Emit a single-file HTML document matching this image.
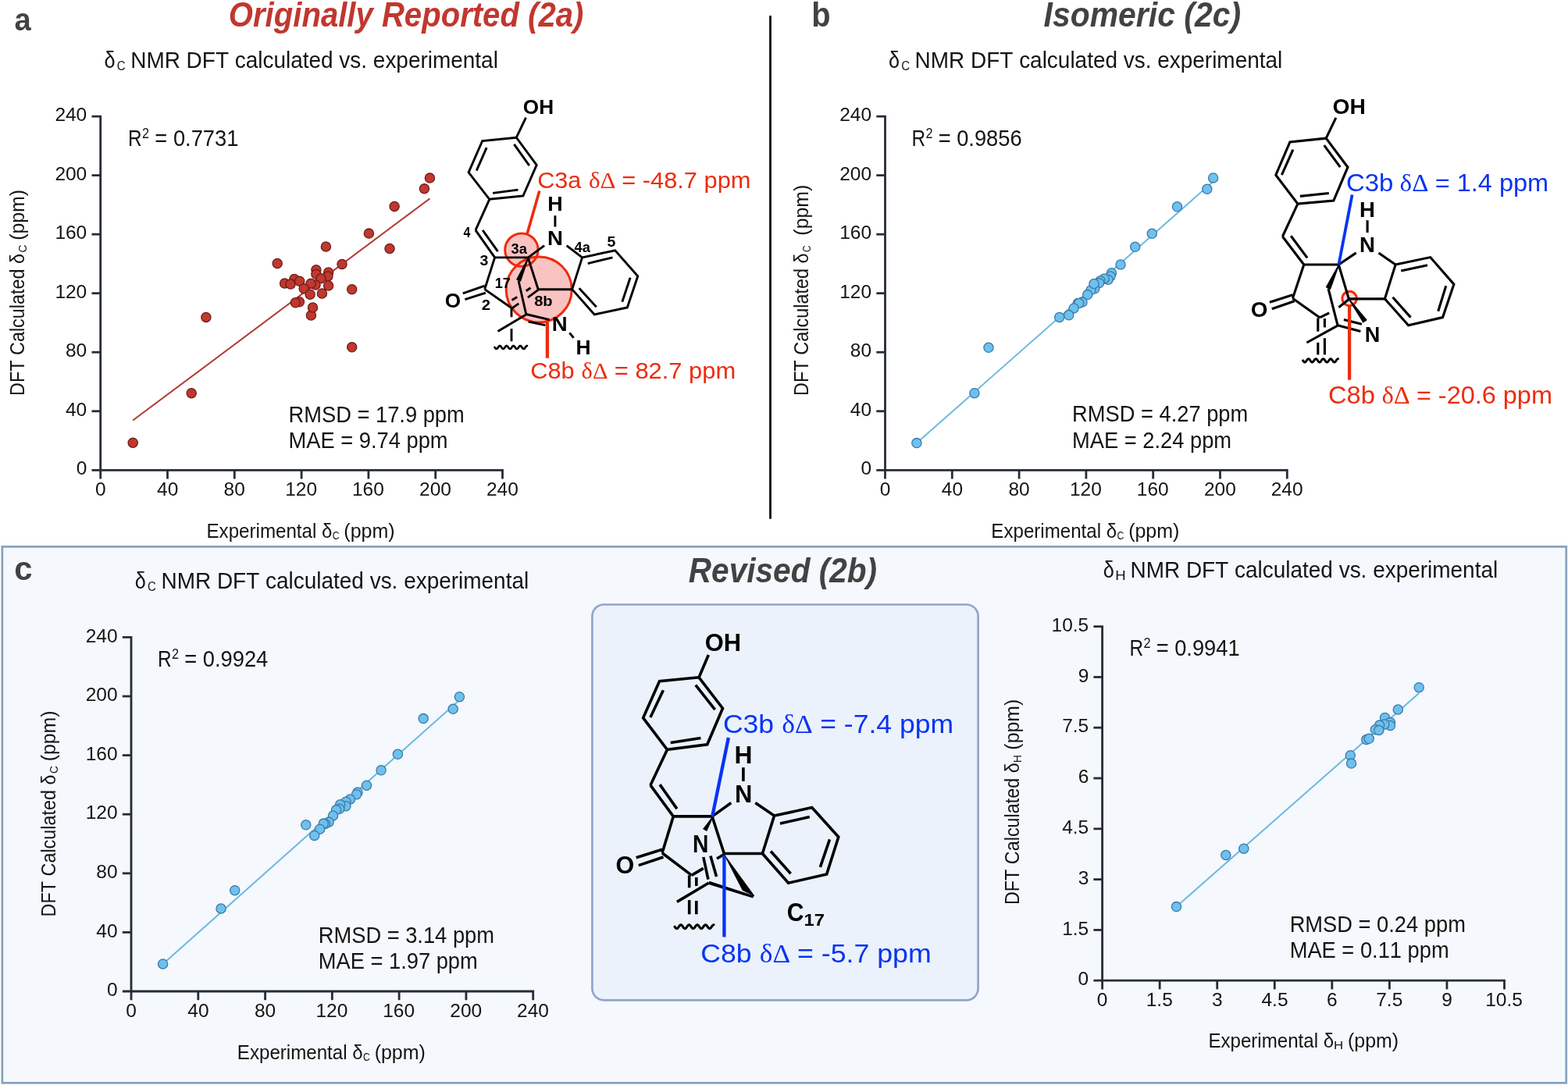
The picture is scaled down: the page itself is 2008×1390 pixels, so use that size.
<!DOCTYPE html>
<html><head><meta charset="utf-8"><title>NMR DFT figure</title>
<style>html,body{margin:0;padding:0;background:#fff;}svg{display:block;}</style></head>
<body>
<svg xmlns="http://www.w3.org/2000/svg" width="2008" height="1390" viewBox="0 0 2008 1390" font-family='"Liberation Sans", Arial, Helvetica, sans-serif' style="font-kerning:none">
<rect width="2008" height="1390" fill="#ffffff"/>
<rect x="2.85" y="700.35" width="2002.9" height="687.0" fill="#f5f8fc" stroke="#87a0bb" stroke-width="2.7"/>
<rect x="758.4" y="774.5" width="494.2" height="506.9" rx="15" ry="15" fill="#ebf2fb" stroke="#91a5cb" stroke-width="2.7"/>
<line x1="986.50" y1="20.00" x2="986.50" y2="664.80" stroke="#141414" stroke-width="2.9" stroke-linecap="butt" />
<text x="18.58" y="38.90" font-size="41.50" font-weight="bold" fill="#424242" textLength="21.17" lengthAdjust="spacingAndGlyphs">a</text>
<text x="1039.37" y="33.80" font-size="43.50" font-weight="bold" fill="#424242" textLength="24.37" lengthAdjust="spacingAndGlyphs">b</text>
<text x="18.27" y="742.90" font-size="42.70" font-weight="bold" fill="#424242" textLength="23.26" lengthAdjust="spacingAndGlyphs">c</text>
<text x="292.84" y="33.50" font-size="45.00" font-weight="bold" font-style="italic" fill="#c1372f" textLength="454.53" lengthAdjust="spacingAndGlyphs">Originally Reported (2a)</text>
<text x="1336.58" y="33.90" font-size="45.00" font-weight="bold" font-style="italic" fill="#424242" textLength="252.52" lengthAdjust="spacingAndGlyphs">Isomeric (2c)</text>
<text x="881.79" y="746.30" font-size="44.60" font-weight="bold" font-style="italic" fill="#424242" textLength="241.30" lengthAdjust="spacingAndGlyphs">Revised (2b)</text>
<text x="133.54" y="87.00" font-size="29.50" fill="#141414" textLength="14.03" lengthAdjust="spacingAndGlyphs">δ</text>
<text x="149.74" y="89.60" font-size="16.40" fill="#141414" textLength="10.83" lengthAdjust="spacingAndGlyphs">C</text>
<text x="167.21" y="87.00" font-size="29.80" fill="#141414" textLength="470.66" lengthAdjust="spacingAndGlyphs">NMR DFT calculated vs. experimental</text>
<text x="1137.94" y="86.90" font-size="29.50" fill="#141414" textLength="14.03" lengthAdjust="spacingAndGlyphs">δ</text>
<text x="1154.14" y="89.50" font-size="16.40" fill="#141414" textLength="10.83" lengthAdjust="spacingAndGlyphs">C</text>
<text x="1171.61" y="86.90" font-size="29.80" fill="#141414" textLength="470.66" lengthAdjust="spacingAndGlyphs">NMR DFT calculated vs. experimental</text>
<text x="172.84" y="754.10" font-size="29.50" fill="#141414" textLength="14.03" lengthAdjust="spacingAndGlyphs">δ</text>
<text x="189.04" y="756.70" font-size="16.40" fill="#141414" textLength="10.83" lengthAdjust="spacingAndGlyphs">C</text>
<text x="206.51" y="754.10" font-size="29.80" fill="#141414" textLength="470.66" lengthAdjust="spacingAndGlyphs">NMR DFT calculated vs. experimental</text>
<text x="1412.84" y="740.10" font-size="29.50" fill="#141414" textLength="14.03" lengthAdjust="spacingAndGlyphs">δ</text>
<text x="1428.37" y="742.70" font-size="16.40" fill="#141414" textLength="13.45" lengthAdjust="spacingAndGlyphs">H</text>
<text x="1447.51" y="740.10" font-size="29.80" fill="#141414" textLength="470.66" lengthAdjust="spacingAndGlyphs">NMR DFT calculated vs. experimental</text>
<line x1="170.20" y1="538.50" x2="550.40" y2="254.40" stroke="#b13a33" stroke-width="2.0" stroke-linecap="butt" />
<path d="M117.50,149.10 H128.70 V613.50" stroke="#252c36" stroke-width="2.8" fill="none"/>
<path d="M117.50,602.30 H643.50 V613.50" stroke="#252c36" stroke-width="2.8" fill="none"/>
<line x1="117.50" y1="526.77" x2="128.70" y2="526.77" stroke="#252c36" stroke-width="2.8" stroke-linecap="butt" />
<line x1="214.50" y1="602.30" x2="214.50" y2="613.50" stroke="#252c36" stroke-width="2.8" stroke-linecap="butt" />
<line x1="117.50" y1="451.23" x2="128.70" y2="451.23" stroke="#252c36" stroke-width="2.8" stroke-linecap="butt" />
<line x1="300.30" y1="602.30" x2="300.30" y2="613.50" stroke="#252c36" stroke-width="2.8" stroke-linecap="butt" />
<line x1="117.50" y1="375.70" x2="128.70" y2="375.70" stroke="#252c36" stroke-width="2.8" stroke-linecap="butt" />
<line x1="386.10" y1="602.30" x2="386.10" y2="613.50" stroke="#252c36" stroke-width="2.8" stroke-linecap="butt" />
<line x1="117.50" y1="300.17" x2="128.70" y2="300.17" stroke="#252c36" stroke-width="2.8" stroke-linecap="butt" />
<line x1="471.90" y1="602.30" x2="471.90" y2="613.50" stroke="#252c36" stroke-width="2.8" stroke-linecap="butt" />
<line x1="117.50" y1="224.63" x2="128.70" y2="224.63" stroke="#252c36" stroke-width="2.8" stroke-linecap="butt" />
<line x1="557.70" y1="602.30" x2="557.70" y2="613.50" stroke="#252c36" stroke-width="2.8" stroke-linecap="butt" />
<text x="97.63" y="608.40" font-size="24.50" fill="#141414" textLength="13.63" lengthAdjust="spacingAndGlyphs">0</text>
<text x="121.89" y="635.40" font-size="24.50" fill="#141414" textLength="13.63" lengthAdjust="spacingAndGlyphs">0</text>
<text x="84.01" y="532.87" font-size="24.50" fill="#141414" textLength="27.25" lengthAdjust="spacingAndGlyphs">40</text>
<text x="201.07" y="635.40" font-size="24.50" fill="#141414" textLength="27.25" lengthAdjust="spacingAndGlyphs">40</text>
<text x="84.01" y="457.33" font-size="24.50" fill="#141414" textLength="27.25" lengthAdjust="spacingAndGlyphs">80</text>
<text x="286.62" y="635.40" font-size="24.50" fill="#141414" textLength="27.25" lengthAdjust="spacingAndGlyphs">80</text>
<text x="70.38" y="381.80" font-size="24.50" fill="#141414" textLength="40.88" lengthAdjust="spacingAndGlyphs">120</text>
<text x="365.21" y="635.40" font-size="24.50" fill="#141414" textLength="40.88" lengthAdjust="spacingAndGlyphs">120</text>
<text x="70.38" y="306.27" font-size="24.50" fill="#141414" textLength="40.88" lengthAdjust="spacingAndGlyphs">160</text>
<text x="451.01" y="635.40" font-size="24.50" fill="#141414" textLength="40.88" lengthAdjust="spacingAndGlyphs">160</text>
<text x="70.38" y="230.73" font-size="24.50" fill="#141414" textLength="40.88" lengthAdjust="spacingAndGlyphs">200</text>
<text x="537.12" y="635.40" font-size="24.50" fill="#141414" textLength="40.88" lengthAdjust="spacingAndGlyphs">200</text>
<text x="70.38" y="155.20" font-size="24.50" fill="#141414" textLength="40.88" lengthAdjust="spacingAndGlyphs">240</text>
<text x="622.92" y="635.40" font-size="24.50" fill="#141414" textLength="40.88" lengthAdjust="spacingAndGlyphs">240</text>
<circle cx="550.4" cy="228.1" r="6.1" fill="#c0382f" stroke="#6e1c17" stroke-width="1.3"/>
<circle cx="543.4" cy="241.7" r="6.1" fill="#c0382f" stroke="#6e1c17" stroke-width="1.3"/>
<circle cx="505.1" cy="264.4" r="6.1" fill="#c0382f" stroke="#6e1c17" stroke-width="1.3"/>
<circle cx="472.4" cy="299.1" r="6.1" fill="#c0382f" stroke="#6e1c17" stroke-width="1.3"/>
<circle cx="499.0" cy="318.5" r="6.1" fill="#c0382f" stroke="#6e1c17" stroke-width="1.3"/>
<circle cx="417.4" cy="316.0" r="6.1" fill="#c0382f" stroke="#6e1c17" stroke-width="1.3"/>
<circle cx="355.2" cy="337.5" r="6.1" fill="#c0382f" stroke="#6e1c17" stroke-width="1.3"/>
<circle cx="438.0" cy="338.4" r="6.1" fill="#c0382f" stroke="#6e1c17" stroke-width="1.3"/>
<circle cx="263.9" cy="406.4" r="6.1" fill="#c0382f" stroke="#6e1c17" stroke-width="1.3"/>
<circle cx="245.2" cy="503.7" r="6.1" fill="#c0382f" stroke="#6e1c17" stroke-width="1.3"/>
<circle cx="170.2" cy="567.2" r="6.1" fill="#c0382f" stroke="#6e1c17" stroke-width="1.3"/>
<circle cx="450.7" cy="370.7" r="6.1" fill="#c0382f" stroke="#6e1c17" stroke-width="1.3"/>
<circle cx="450.7" cy="444.8" r="6.1" fill="#c0382f" stroke="#6e1c17" stroke-width="1.3"/>
<circle cx="398.4" cy="404.0" r="6.1" fill="#c0382f" stroke="#6e1c17" stroke-width="1.3"/>
<circle cx="400.5" cy="394.0" r="6.1" fill="#c0382f" stroke="#6e1c17" stroke-width="1.3"/>
<circle cx="404.9" cy="345.8" r="6.1" fill="#c0382f" stroke="#6e1c17" stroke-width="1.3"/>
<circle cx="420.6" cy="349.0" r="6.1" fill="#c0382f" stroke="#6e1c17" stroke-width="1.3"/>
<circle cx="404.9" cy="351.3" r="6.1" fill="#c0382f" stroke="#6e1c17" stroke-width="1.3"/>
<circle cx="419.9" cy="354.0" r="6.1" fill="#c0382f" stroke="#6e1c17" stroke-width="1.3"/>
<circle cx="411.0" cy="356.7" r="6.1" fill="#c0382f" stroke="#6e1c17" stroke-width="1.3"/>
<circle cx="376.9" cy="357.4" r="6.1" fill="#c0382f" stroke="#6e1c17" stroke-width="1.3"/>
<circle cx="364.6" cy="362.9" r="6.1" fill="#c0382f" stroke="#6e1c17" stroke-width="1.3"/>
<circle cx="372.1" cy="364.0" r="6.1" fill="#c0382f" stroke="#6e1c17" stroke-width="1.3"/>
<circle cx="383.7" cy="360.2" r="6.1" fill="#c0382f" stroke="#6e1c17" stroke-width="1.3"/>
<circle cx="404.0" cy="365.0" r="6.1" fill="#c0382f" stroke="#6e1c17" stroke-width="1.3"/>
<circle cx="398.0" cy="363.2" r="6.1" fill="#c0382f" stroke="#6e1c17" stroke-width="1.3"/>
<circle cx="389.2" cy="369.7" r="6.1" fill="#c0382f" stroke="#6e1c17" stroke-width="1.3"/>
<circle cx="420.6" cy="366.0" r="6.1" fill="#c0382f" stroke="#6e1c17" stroke-width="1.3"/>
<circle cx="397.1" cy="377.2" r="6.1" fill="#c0382f" stroke="#6e1c17" stroke-width="1.3"/>
<circle cx="412.4" cy="375.9" r="6.1" fill="#c0382f" stroke="#6e1c17" stroke-width="1.3"/>
<circle cx="383.4" cy="386.8" r="6.1" fill="#c0382f" stroke="#6e1c17" stroke-width="1.3"/>
<circle cx="378.3" cy="387.8" r="6.1" fill="#c0382f" stroke="#6e1c17" stroke-width="1.3"/>
<text x="264.52" y="689.10" font-size="24.90" fill="#141414" textLength="160.90" lengthAdjust="spacingAndGlyphs">Experimental δ</text>
<text x="425.77" y="691.10" font-size="13.90" fill="#141414" textLength="8.89" lengthAdjust="spacingAndGlyphs">C</text>
<text x="440.35" y="689.10" font-size="24.90" fill="#141414" textLength="65.30" lengthAdjust="spacingAndGlyphs">(ppm)</text>
<g transform="translate(30.70,0) rotate(-90)">
<text x="-506.92" y="0.00" font-size="25.30" fill="#141414" textLength="181.91" lengthAdjust="spacingAndGlyphs">DFT Calculated δ</text>
<text x="-323.60" y="3.00" font-size="14.80" fill="#141414" textLength="9.92" lengthAdjust="spacingAndGlyphs">C</text>
<text x="-307.84" y="0.00" font-size="25.30" fill="#141414" textLength="64.88" lengthAdjust="spacingAndGlyphs">(ppm)</text>
</g>
<text x="164.10" y="186.80" font-size="29.50" fill="#141414" textLength="17.64" lengthAdjust="spacingAndGlyphs">R</text>
<text x="182.09" y="177.10" font-size="17.50" fill="#141414" textLength="9.00" lengthAdjust="spacingAndGlyphs">2</text>
<text x="198.37" y="186.80" font-size="29.50" fill="#141414" textLength="106.98" lengthAdjust="spacingAndGlyphs">= 0.7731</text>
<text x="369.56" y="540.80" font-size="29.50" fill="#141414" textLength="225.22" lengthAdjust="spacingAndGlyphs">RMSD = 17.9 ppm</text>
<text x="369.56" y="574.00" font-size="29.50" fill="#141414" textLength="204.00" lengthAdjust="spacingAndGlyphs">MAE = 9.74 ppm</text>
<line x1="1173.90" y1="567.60" x2="1553.00" y2="233.00" stroke="#6db9e2" stroke-width="2.0" stroke-linecap="butt" />
<path d="M1122.30,149.10 H1133.50 V613.50" stroke="#252c36" stroke-width="2.8" fill="none"/>
<path d="M1122.30,602.30 H1648.30 V613.50" stroke="#252c36" stroke-width="2.8" fill="none"/>
<line x1="1122.30" y1="526.77" x2="1133.50" y2="526.77" stroke="#252c36" stroke-width="2.8" stroke-linecap="butt" />
<line x1="1219.30" y1="602.30" x2="1219.30" y2="613.50" stroke="#252c36" stroke-width="2.8" stroke-linecap="butt" />
<line x1="1122.30" y1="451.23" x2="1133.50" y2="451.23" stroke="#252c36" stroke-width="2.8" stroke-linecap="butt" />
<line x1="1305.10" y1="602.30" x2="1305.10" y2="613.50" stroke="#252c36" stroke-width="2.8" stroke-linecap="butt" />
<line x1="1122.30" y1="375.70" x2="1133.50" y2="375.70" stroke="#252c36" stroke-width="2.8" stroke-linecap="butt" />
<line x1="1390.90" y1="602.30" x2="1390.90" y2="613.50" stroke="#252c36" stroke-width="2.8" stroke-linecap="butt" />
<line x1="1122.30" y1="300.17" x2="1133.50" y2="300.17" stroke="#252c36" stroke-width="2.8" stroke-linecap="butt" />
<line x1="1476.70" y1="602.30" x2="1476.70" y2="613.50" stroke="#252c36" stroke-width="2.8" stroke-linecap="butt" />
<line x1="1122.30" y1="224.63" x2="1133.50" y2="224.63" stroke="#252c36" stroke-width="2.8" stroke-linecap="butt" />
<line x1="1562.50" y1="602.30" x2="1562.50" y2="613.50" stroke="#252c36" stroke-width="2.8" stroke-linecap="butt" />
<text x="1102.43" y="608.40" font-size="24.50" fill="#141414" textLength="13.63" lengthAdjust="spacingAndGlyphs">0</text>
<text x="1126.69" y="635.40" font-size="24.50" fill="#141414" textLength="13.63" lengthAdjust="spacingAndGlyphs">0</text>
<text x="1088.81" y="532.87" font-size="24.50" fill="#141414" textLength="27.25" lengthAdjust="spacingAndGlyphs">40</text>
<text x="1205.87" y="635.40" font-size="24.50" fill="#141414" textLength="27.25" lengthAdjust="spacingAndGlyphs">40</text>
<text x="1088.81" y="457.33" font-size="24.50" fill="#141414" textLength="27.25" lengthAdjust="spacingAndGlyphs">80</text>
<text x="1291.42" y="635.40" font-size="24.50" fill="#141414" textLength="27.25" lengthAdjust="spacingAndGlyphs">80</text>
<text x="1075.18" y="381.80" font-size="24.50" fill="#141414" textLength="40.88" lengthAdjust="spacingAndGlyphs">120</text>
<text x="1370.01" y="635.40" font-size="24.50" fill="#141414" textLength="40.88" lengthAdjust="spacingAndGlyphs">120</text>
<text x="1075.18" y="306.27" font-size="24.50" fill="#141414" textLength="40.88" lengthAdjust="spacingAndGlyphs">160</text>
<text x="1455.81" y="635.40" font-size="24.50" fill="#141414" textLength="40.88" lengthAdjust="spacingAndGlyphs">160</text>
<text x="1075.18" y="230.73" font-size="24.50" fill="#141414" textLength="40.88" lengthAdjust="spacingAndGlyphs">200</text>
<text x="1541.92" y="635.40" font-size="24.50" fill="#141414" textLength="40.88" lengthAdjust="spacingAndGlyphs">200</text>
<text x="1075.18" y="155.20" font-size="24.50" fill="#141414" textLength="40.88" lengthAdjust="spacingAndGlyphs">240</text>
<text x="1627.72" y="635.40" font-size="24.50" fill="#141414" textLength="40.88" lengthAdjust="spacingAndGlyphs">240</text>
<circle cx="1553.6" cy="227.9" r="6.1" fill="#6ec0ee" stroke="#3b7aa6" stroke-width="1.3"/>
<circle cx="1545.8" cy="242.3" r="6.1" fill="#6ec0ee" stroke="#3b7aa6" stroke-width="1.3"/>
<circle cx="1507.5" cy="264.8" r="6.1" fill="#6ec0ee" stroke="#3b7aa6" stroke-width="1.3"/>
<circle cx="1475.3" cy="299.3" r="6.1" fill="#6ec0ee" stroke="#3b7aa6" stroke-width="1.3"/>
<circle cx="1453.7" cy="316.3" r="6.1" fill="#6ec0ee" stroke="#3b7aa6" stroke-width="1.3"/>
<circle cx="1435.0" cy="339.0" r="6.1" fill="#6ec0ee" stroke="#3b7aa6" stroke-width="1.3"/>
<circle cx="1423.5" cy="349.7" r="6.1" fill="#6ec0ee" stroke="#3b7aa6" stroke-width="1.3"/>
<circle cx="1422.0" cy="354.0" r="6.1" fill="#6ec0ee" stroke="#3b7aa6" stroke-width="1.3"/>
<circle cx="1419.1" cy="358.3" r="6.1" fill="#6ec0ee" stroke="#3b7aa6" stroke-width="1.3"/>
<circle cx="1414.2" cy="356.9" r="6.1" fill="#6ec0ee" stroke="#3b7aa6" stroke-width="1.3"/>
<circle cx="1409.1" cy="359.8" r="6.1" fill="#6ec0ee" stroke="#3b7aa6" stroke-width="1.3"/>
<circle cx="1407.6" cy="362.6" r="6.1" fill="#6ec0ee" stroke="#3b7aa6" stroke-width="1.3"/>
<circle cx="1401.9" cy="369.8" r="6.1" fill="#6ec0ee" stroke="#3b7aa6" stroke-width="1.3"/>
<circle cx="1397.0" cy="371.8" r="6.1" fill="#6ec0ee" stroke="#3b7aa6" stroke-width="1.3"/>
<circle cx="1401.0" cy="363.5" r="6.1" fill="#6ec0ee" stroke="#3b7aa6" stroke-width="1.3"/>
<circle cx="1392.7" cy="377.6" r="6.1" fill="#6ec0ee" stroke="#3b7aa6" stroke-width="1.3"/>
<circle cx="1386.0" cy="387.1" r="6.1" fill="#6ec0ee" stroke="#3b7aa6" stroke-width="1.3"/>
<circle cx="1380.3" cy="388.5" r="6.1" fill="#6ec0ee" stroke="#3b7aa6" stroke-width="1.3"/>
<circle cx="1381.7" cy="388.5" r="6.1" fill="#6ec0ee" stroke="#3b7aa6" stroke-width="1.3"/>
<circle cx="1375.1" cy="394.9" r="6.1" fill="#6ec0ee" stroke="#3b7aa6" stroke-width="1.3"/>
<circle cx="1368.8" cy="403.8" r="6.1" fill="#6ec0ee" stroke="#3b7aa6" stroke-width="1.3"/>
<circle cx="1356.7" cy="406.4" r="6.1" fill="#6ec0ee" stroke="#3b7aa6" stroke-width="1.3"/>
<circle cx="1266.0" cy="445.3" r="6.1" fill="#6ec0ee" stroke="#3b7aa6" stroke-width="1.3"/>
<circle cx="1247.9" cy="503.7" r="6.1" fill="#6ec0ee" stroke="#3b7aa6" stroke-width="1.3"/>
<circle cx="1173.9" cy="567.6" r="6.1" fill="#6ec0ee" stroke="#3b7aa6" stroke-width="1.3"/>
<text x="1269.32" y="689.10" font-size="24.90" fill="#141414" textLength="160.90" lengthAdjust="spacingAndGlyphs">Experimental δ</text>
<text x="1430.57" y="691.10" font-size="13.90" fill="#141414" textLength="8.89" lengthAdjust="spacingAndGlyphs">C</text>
<text x="1445.15" y="689.10" font-size="24.90" fill="#141414" textLength="65.30" lengthAdjust="spacingAndGlyphs">(ppm)</text>
<g transform="translate(1035.30,0) rotate(-90)">
<text x="-506.92" y="0.00" font-size="25.30" fill="#141414" textLength="182.52" lengthAdjust="spacingAndGlyphs">DFT Calculated δ</text>
<text x="-322.90" y="3.00" font-size="14.80" fill="#141414" textLength="8.55" lengthAdjust="spacingAndGlyphs">C</text>
<text x="-301.64" y="0.00" font-size="25.30" fill="#141414" textLength="64.88" lengthAdjust="spacingAndGlyphs">(ppm)</text>
</g>
<text x="1167.40" y="186.90" font-size="29.50" fill="#141414" textLength="17.64" lengthAdjust="spacingAndGlyphs">R</text>
<text x="1185.39" y="177.20" font-size="17.50" fill="#141414" textLength="9.00" lengthAdjust="spacingAndGlyphs">2</text>
<text x="1201.67" y="186.90" font-size="29.50" fill="#141414" textLength="106.98" lengthAdjust="spacingAndGlyphs">= 0.9856</text>
<text x="1373.06" y="540.20" font-size="29.50" fill="#141414" textLength="225.22" lengthAdjust="spacingAndGlyphs">RMSD = 4.27 ppm</text>
<text x="1373.06" y="573.50" font-size="29.50" fill="#141414" textLength="204.00" lengthAdjust="spacingAndGlyphs">MAE = 2.24 ppm</text>
<line x1="208.60" y1="1235.00" x2="587.90" y2="897.30" stroke="#6db9e2" stroke-width="2.0" stroke-linecap="butt" />
<path d="M156.80,816.40 H168.00 V1281.20" stroke="#252c36" stroke-width="2.8" fill="none"/>
<path d="M156.80,1270.00 H682.70 V1281.20" stroke="#252c36" stroke-width="2.8" fill="none"/>
<line x1="156.80" y1="1194.40" x2="168.00" y2="1194.40" stroke="#252c36" stroke-width="2.8" stroke-linecap="butt" />
<line x1="253.78" y1="1270.00" x2="253.78" y2="1281.20" stroke="#252c36" stroke-width="2.8" stroke-linecap="butt" />
<line x1="156.80" y1="1118.80" x2="168.00" y2="1118.80" stroke="#252c36" stroke-width="2.8" stroke-linecap="butt" />
<line x1="339.57" y1="1270.00" x2="339.57" y2="1281.20" stroke="#252c36" stroke-width="2.8" stroke-linecap="butt" />
<line x1="156.80" y1="1043.20" x2="168.00" y2="1043.20" stroke="#252c36" stroke-width="2.8" stroke-linecap="butt" />
<line x1="425.35" y1="1270.00" x2="425.35" y2="1281.20" stroke="#252c36" stroke-width="2.8" stroke-linecap="butt" />
<line x1="156.80" y1="967.60" x2="168.00" y2="967.60" stroke="#252c36" stroke-width="2.8" stroke-linecap="butt" />
<line x1="511.13" y1="1270.00" x2="511.13" y2="1281.20" stroke="#252c36" stroke-width="2.8" stroke-linecap="butt" />
<line x1="156.80" y1="892.00" x2="168.00" y2="892.00" stroke="#252c36" stroke-width="2.8" stroke-linecap="butt" />
<line x1="596.92" y1="1270.00" x2="596.92" y2="1281.20" stroke="#252c36" stroke-width="2.8" stroke-linecap="butt" />
<text x="136.93" y="1276.10" font-size="24.50" fill="#141414" textLength="13.63" lengthAdjust="spacingAndGlyphs">0</text>
<text x="161.19" y="1303.10" font-size="24.50" fill="#141414" textLength="13.63" lengthAdjust="spacingAndGlyphs">0</text>
<text x="123.31" y="1200.50" font-size="24.50" fill="#141414" textLength="27.25" lengthAdjust="spacingAndGlyphs">40</text>
<text x="240.35" y="1303.10" font-size="24.50" fill="#141414" textLength="27.25" lengthAdjust="spacingAndGlyphs">40</text>
<text x="123.31" y="1124.90" font-size="24.50" fill="#141414" textLength="27.25" lengthAdjust="spacingAndGlyphs">80</text>
<text x="325.89" y="1303.10" font-size="24.50" fill="#141414" textLength="27.25" lengthAdjust="spacingAndGlyphs">80</text>
<text x="109.68" y="1049.30" font-size="24.50" fill="#141414" textLength="40.88" lengthAdjust="spacingAndGlyphs">120</text>
<text x="404.46" y="1303.10" font-size="24.50" fill="#141414" textLength="40.88" lengthAdjust="spacingAndGlyphs">120</text>
<text x="109.68" y="973.70" font-size="24.50" fill="#141414" textLength="40.88" lengthAdjust="spacingAndGlyphs">160</text>
<text x="490.24" y="1303.10" font-size="24.50" fill="#141414" textLength="40.88" lengthAdjust="spacingAndGlyphs">160</text>
<text x="109.68" y="898.10" font-size="24.50" fill="#141414" textLength="40.88" lengthAdjust="spacingAndGlyphs">200</text>
<text x="576.34" y="1303.10" font-size="24.50" fill="#141414" textLength="40.88" lengthAdjust="spacingAndGlyphs">200</text>
<text x="109.68" y="822.50" font-size="24.50" fill="#141414" textLength="40.88" lengthAdjust="spacingAndGlyphs">240</text>
<text x="662.12" y="1303.10" font-size="24.50" fill="#141414" textLength="40.88" lengthAdjust="spacingAndGlyphs">240</text>
<circle cx="588.4" cy="892.7" r="6.1" fill="#6ec0ee" stroke="#3b7aa6" stroke-width="1.3"/>
<circle cx="580.2" cy="908.3" r="6.1" fill="#6ec0ee" stroke="#3b7aa6" stroke-width="1.3"/>
<circle cx="542.2" cy="920.6" r="6.1" fill="#6ec0ee" stroke="#3b7aa6" stroke-width="1.3"/>
<circle cx="509.4" cy="966.3" r="6.1" fill="#6ec0ee" stroke="#3b7aa6" stroke-width="1.3"/>
<circle cx="488.1" cy="986.8" r="6.1" fill="#6ec0ee" stroke="#3b7aa6" stroke-width="1.3"/>
<circle cx="469.5" cy="1006.2" r="6.1" fill="#6ec0ee" stroke="#3b7aa6" stroke-width="1.3"/>
<circle cx="458.0" cy="1014.9" r="6.1" fill="#6ec0ee" stroke="#3b7aa6" stroke-width="1.3"/>
<circle cx="456.6" cy="1017.7" r="6.1" fill="#6ec0ee" stroke="#3b7aa6" stroke-width="1.3"/>
<circle cx="448.4" cy="1024.0" r="6.1" fill="#6ec0ee" stroke="#3b7aa6" stroke-width="1.3"/>
<circle cx="442.9" cy="1027.2" r="6.1" fill="#6ec0ee" stroke="#3b7aa6" stroke-width="1.3"/>
<circle cx="442.9" cy="1032.7" r="6.1" fill="#6ec0ee" stroke="#3b7aa6" stroke-width="1.3"/>
<circle cx="435.6" cy="1030.8" r="6.1" fill="#6ec0ee" stroke="#3b7aa6" stroke-width="1.3"/>
<circle cx="434.7" cy="1036.3" r="6.1" fill="#6ec0ee" stroke="#3b7aa6" stroke-width="1.3"/>
<circle cx="430.6" cy="1037.6" r="6.1" fill="#6ec0ee" stroke="#3b7aa6" stroke-width="1.3"/>
<circle cx="426.5" cy="1045.0" r="6.1" fill="#6ec0ee" stroke="#3b7aa6" stroke-width="1.3"/>
<circle cx="421.1" cy="1053.2" r="6.1" fill="#6ec0ee" stroke="#3b7aa6" stroke-width="1.3"/>
<circle cx="416.4" cy="1055.4" r="6.1" fill="#6ec0ee" stroke="#3b7aa6" stroke-width="1.3"/>
<circle cx="414.2" cy="1055.1" r="6.1" fill="#6ec0ee" stroke="#3b7aa6" stroke-width="1.3"/>
<circle cx="409.6" cy="1062.2" r="6.1" fill="#6ec0ee" stroke="#3b7aa6" stroke-width="1.3"/>
<circle cx="402.7" cy="1070.4" r="6.1" fill="#6ec0ee" stroke="#3b7aa6" stroke-width="1.3"/>
<circle cx="391.8" cy="1056.8" r="6.1" fill="#6ec0ee" stroke="#3b7aa6" stroke-width="1.3"/>
<circle cx="300.7" cy="1140.7" r="6.1" fill="#6ec0ee" stroke="#3b7aa6" stroke-width="1.3"/>
<circle cx="283.0" cy="1164.0" r="6.1" fill="#6ec0ee" stroke="#3b7aa6" stroke-width="1.3"/>
<circle cx="208.6" cy="1235.0" r="6.1" fill="#6ec0ee" stroke="#3b7aa6" stroke-width="1.3"/>
<text x="303.82" y="1356.80" font-size="24.90" fill="#141414" textLength="160.90" lengthAdjust="spacingAndGlyphs">Experimental δ</text>
<text x="465.07" y="1358.80" font-size="13.90" fill="#141414" textLength="8.89" lengthAdjust="spacingAndGlyphs">C</text>
<text x="479.65" y="1356.80" font-size="24.90" fill="#141414" textLength="65.30" lengthAdjust="spacingAndGlyphs">(ppm)</text>
<g transform="translate(70.50,0) rotate(-90)">
<text x="-1174.42" y="0.00" font-size="25.30" fill="#141414" textLength="181.91" lengthAdjust="spacingAndGlyphs">DFT Calculated δ</text>
<text x="-991.10" y="3.00" font-size="14.80" fill="#141414" textLength="9.92" lengthAdjust="spacingAndGlyphs">C</text>
<text x="-975.34" y="0.00" font-size="25.30" fill="#141414" textLength="64.88" lengthAdjust="spacingAndGlyphs">(ppm)</text>
</g>
<text x="202.00" y="853.70" font-size="29.50" fill="#141414" textLength="17.64" lengthAdjust="spacingAndGlyphs">R</text>
<text x="219.99" y="844.00" font-size="17.50" fill="#141414" textLength="9.00" lengthAdjust="spacingAndGlyphs">2</text>
<text x="236.27" y="853.70" font-size="29.50" fill="#141414" textLength="106.98" lengthAdjust="spacingAndGlyphs">= 0.9924</text>
<text x="407.76" y="1207.80" font-size="29.50" fill="#141414" textLength="225.22" lengthAdjust="spacingAndGlyphs">RMSD = 3.14 ppm</text>
<text x="407.76" y="1240.50" font-size="29.50" fill="#141414" textLength="204.00" lengthAdjust="spacingAndGlyphs">MAE = 1.97 ppm</text>
<line x1="1506.50" y1="1161.60" x2="1817.20" y2="888.10" stroke="#6db9e2" stroke-width="2.0" stroke-linecap="butt" />
<path d="M1400.40,802.60 H1411.60 V1267.40" stroke="#252c36" stroke-width="2.8" fill="none"/>
<path d="M1400.40,1256.20 H1926.50 V1267.40" stroke="#252c36" stroke-width="2.8" fill="none"/>
<line x1="1400.40" y1="1191.40" x2="1411.60" y2="1191.40" stroke="#252c36" stroke-width="2.8" stroke-linecap="butt" />
<line x1="1485.16" y1="1256.20" x2="1485.16" y2="1267.40" stroke="#252c36" stroke-width="2.8" stroke-linecap="butt" />
<line x1="1400.40" y1="1126.60" x2="1411.60" y2="1126.60" stroke="#252c36" stroke-width="2.8" stroke-linecap="butt" />
<line x1="1558.71" y1="1256.20" x2="1558.71" y2="1267.40" stroke="#252c36" stroke-width="2.8" stroke-linecap="butt" />
<line x1="1400.40" y1="1061.80" x2="1411.60" y2="1061.80" stroke="#252c36" stroke-width="2.8" stroke-linecap="butt" />
<line x1="1632.27" y1="1256.20" x2="1632.27" y2="1267.40" stroke="#252c36" stroke-width="2.8" stroke-linecap="butt" />
<line x1="1400.40" y1="997.00" x2="1411.60" y2="997.00" stroke="#252c36" stroke-width="2.8" stroke-linecap="butt" />
<line x1="1705.83" y1="1256.20" x2="1705.83" y2="1267.40" stroke="#252c36" stroke-width="2.8" stroke-linecap="butt" />
<line x1="1400.40" y1="932.20" x2="1411.60" y2="932.20" stroke="#252c36" stroke-width="2.8" stroke-linecap="butt" />
<line x1="1779.39" y1="1256.20" x2="1779.39" y2="1267.40" stroke="#252c36" stroke-width="2.8" stroke-linecap="butt" />
<line x1="1400.40" y1="867.40" x2="1411.60" y2="867.40" stroke="#252c36" stroke-width="2.8" stroke-linecap="butt" />
<line x1="1852.94" y1="1256.20" x2="1852.94" y2="1267.40" stroke="#252c36" stroke-width="2.8" stroke-linecap="butt" />
<text x="1380.53" y="1262.30" font-size="24.50" fill="#141414" textLength="13.63" lengthAdjust="spacingAndGlyphs">0</text>
<text x="1404.79" y="1289.30" font-size="24.50" fill="#141414" textLength="13.63" lengthAdjust="spacingAndGlyphs">0</text>
<text x="1360.17" y="1197.50" font-size="24.50" fill="#141414" textLength="34.06" lengthAdjust="spacingAndGlyphs">1.5</text>
<text x="1467.71" y="1289.30" font-size="24.50" fill="#141414" textLength="34.06" lengthAdjust="spacingAndGlyphs">1.5</text>
<text x="1380.65" y="1132.70" font-size="24.50" fill="#141414" textLength="13.63" lengthAdjust="spacingAndGlyphs">3</text>
<text x="1551.97" y="1289.30" font-size="24.50" fill="#141414" textLength="13.63" lengthAdjust="spacingAndGlyphs">3</text>
<text x="1360.17" y="1067.90" font-size="24.50" fill="#141414" textLength="34.06" lengthAdjust="spacingAndGlyphs">4.5</text>
<text x="1615.48" y="1289.30" font-size="24.50" fill="#141414" textLength="34.06" lengthAdjust="spacingAndGlyphs">4.5</text>
<text x="1380.65" y="1003.10" font-size="24.50" fill="#141414" textLength="13.63" lengthAdjust="spacingAndGlyphs">6</text>
<text x="1698.93" y="1289.30" font-size="24.50" fill="#141414" textLength="13.63" lengthAdjust="spacingAndGlyphs">6</text>
<text x="1360.17" y="938.30" font-size="24.50" fill="#141414" textLength="34.06" lengthAdjust="spacingAndGlyphs">7.5</text>
<text x="1762.24" y="1289.30" font-size="24.50" fill="#141414" textLength="34.06" lengthAdjust="spacingAndGlyphs">7.5</text>
<text x="1380.73" y="873.50" font-size="24.50" fill="#141414" textLength="13.63" lengthAdjust="spacingAndGlyphs">9</text>
<text x="1846.14" y="1289.30" font-size="24.50" fill="#141414" textLength="13.63" lengthAdjust="spacingAndGlyphs">9</text>
<text x="1346.54" y="808.70" font-size="24.50" fill="#141414" textLength="47.68" lengthAdjust="spacingAndGlyphs">10.5</text>
<text x="1902.24" y="1289.30" font-size="24.50" fill="#141414" textLength="47.68" lengthAdjust="spacingAndGlyphs">10.5</text>
<circle cx="1817.2" cy="880.7" r="6.1" fill="#6ec0ee" stroke="#3b7aa6" stroke-width="1.3"/>
<circle cx="1790.3" cy="909.0" r="6.1" fill="#6ec0ee" stroke="#3b7aa6" stroke-width="1.3"/>
<circle cx="1773.5" cy="919.4" r="6.1" fill="#6ec0ee" stroke="#3b7aa6" stroke-width="1.3"/>
<circle cx="1780.4" cy="925.6" r="6.1" fill="#6ec0ee" stroke="#3b7aa6" stroke-width="1.3"/>
<circle cx="1780.4" cy="929.5" r="6.1" fill="#6ec0ee" stroke="#3b7aa6" stroke-width="1.3"/>
<circle cx="1772.8" cy="927.9" r="6.1" fill="#6ec0ee" stroke="#3b7aa6" stroke-width="1.3"/>
<circle cx="1766.6" cy="929.1" r="6.1" fill="#6ec0ee" stroke="#3b7aa6" stroke-width="1.3"/>
<circle cx="1761.3" cy="934.8" r="6.1" fill="#6ec0ee" stroke="#3b7aa6" stroke-width="1.3"/>
<circle cx="1765.9" cy="935.5" r="6.1" fill="#6ec0ee" stroke="#3b7aa6" stroke-width="1.3"/>
<circle cx="1749.8" cy="947.5" r="6.1" fill="#6ec0ee" stroke="#3b7aa6" stroke-width="1.3"/>
<circle cx="1753.2" cy="946.3" r="6.1" fill="#6ec0ee" stroke="#3b7aa6" stroke-width="1.3"/>
<circle cx="1729.3" cy="967.7" r="6.1" fill="#6ec0ee" stroke="#3b7aa6" stroke-width="1.3"/>
<circle cx="1730.5" cy="978.1" r="6.1" fill="#6ec0ee" stroke="#3b7aa6" stroke-width="1.3"/>
<circle cx="1592.8" cy="1087.2" r="6.1" fill="#6ec0ee" stroke="#3b7aa6" stroke-width="1.3"/>
<circle cx="1569.8" cy="1095.5" r="6.1" fill="#6ec0ee" stroke="#3b7aa6" stroke-width="1.3"/>
<circle cx="1506.5" cy="1161.6" r="6.1" fill="#6ec0ee" stroke="#3b7aa6" stroke-width="1.3"/>
<text x="1547.42" y="1342.00" font-size="24.90" fill="#141414" textLength="160.70" lengthAdjust="spacingAndGlyphs">Experimental δ</text>
<text x="1708.02" y="1344.00" font-size="14.80" fill="#141414" textLength="12.15" lengthAdjust="spacingAndGlyphs">H</text>
<text x="1726.05" y="1342.00" font-size="24.90" fill="#141414" textLength="65.09" lengthAdjust="spacingAndGlyphs">(ppm)</text>
<g transform="translate(1304.80,0) rotate(-90)">
<text x="-1159.12" y="0.00" font-size="25.30" fill="#141414" textLength="181.91" lengthAdjust="spacingAndGlyphs">DFT Calculated δ</text>
<text x="-977.26" y="3.00" font-size="14.80" fill="#141414" textLength="10.21" lengthAdjust="spacingAndGlyphs">H</text>
<text x="-960.64" y="0.00" font-size="25.30" fill="#141414" textLength="64.78" lengthAdjust="spacingAndGlyphs">(ppm)</text>
</g>
<text x="1446.40" y="839.60" font-size="29.50" fill="#141414" textLength="17.64" lengthAdjust="spacingAndGlyphs">R</text>
<text x="1464.39" y="829.90" font-size="17.50" fill="#141414" textLength="9.00" lengthAdjust="spacingAndGlyphs">2</text>
<text x="1480.67" y="839.60" font-size="29.50" fill="#141414" textLength="106.98" lengthAdjust="spacingAndGlyphs">= 0.9941</text>
<text x="1651.66" y="1193.90" font-size="29.50" fill="#141414" textLength="225.22" lengthAdjust="spacingAndGlyphs">RMSD = 0.24 ppm</text>
<text x="1651.66" y="1227.10" font-size="29.50" fill="#141414" textLength="204.00" lengthAdjust="spacingAndGlyphs">MAE = 0.11 ppm</text>
<circle cx="690.2" cy="370.9" r="42.0" fill="#f9c3c2"/>
<circle cx="667.9" cy="320.1" r="21.4" fill="#f9c3c2"/>
<circle cx="690.2" cy="370.9" r="42.0" fill="none" stroke="#ec2c0e" stroke-width="3.0"/>
<circle cx="667.9" cy="320.1" r="21.2" fill="none" stroke="#ec2c0e" stroke-width="3.0"/>
<line x1="675.00" y1="300.00" x2="690.80" y2="244.50" stroke="#ec2c0e" stroke-width="3.6" stroke-linecap="butt" />
<line x1="700.90" y1="410.50" x2="700.90" y2="458.80" stroke="#ec2c0e" stroke-width="4.3" stroke-linecap="butt" />
<path d="M661.30,176.20 L617.70,180.50 L600.10,220.80 L626.80,255.30 L669.90,251.00 L687.20,211.40 Z" stroke="#000" stroke-width="2.9" fill="none" stroke-linejoin="miter" stroke-linecap="butt"/>
<line x1="623.20" y1="189.10" x2="610.20" y2="218.60" stroke="#000" stroke-width="2.9" stroke-linecap="butt" />
<line x1="631.10" y1="247.40" x2="663.50" y2="243.10" stroke="#000" stroke-width="2.9" stroke-linecap="butt" />
<line x1="658.40" y1="184.80" x2="677.80" y2="212.10" stroke="#000" stroke-width="2.9" stroke-linecap="butt" />
<line x1="673.50" y1="150.70" x2="661.30" y2="176.20" stroke="#000" stroke-width="2.9" stroke-linecap="butt" />
<line x1="626.80" y1="255.30" x2="609.00" y2="294.90" stroke="#000" stroke-width="2.9" stroke-linecap="butt" />
<line x1="609.00" y1="294.90" x2="633.60" y2="329.90" stroke="#000" stroke-width="2.9" stroke-linecap="butt" />
<line x1="618.10" y1="294.90" x2="637.50" y2="322.10" stroke="#000" stroke-width="2.9" stroke-linecap="butt" />
<line x1="633.60" y1="329.90" x2="676.40" y2="329.90" stroke="#000" stroke-width="2.9" stroke-linecap="butt" />
<line x1="633.60" y1="329.90" x2="620.70" y2="370.60" stroke="#000" stroke-width="2.9" stroke-linecap="butt" />
<line x1="620.70" y1="366.10" x2="592.80" y2="375.80" stroke="#000" stroke-width="2.9" stroke-linecap="butt" />
<line x1="622.00" y1="375.20" x2="595.40" y2="383.60" stroke="#000" stroke-width="2.9" stroke-linecap="butt" />
<line x1="620.70" y1="370.60" x2="654.30" y2="394.00" stroke="#000" stroke-width="2.9" stroke-linecap="butt" />
<line x1="655.00" y1="394.00" x2="655.00" y2="406.20" stroke="#000" stroke-width="2.9" stroke-linecap="butt" />
<line x1="655.00" y1="421.10" x2="655.00" y2="437.30" stroke="#000" stroke-width="2.9" stroke-linecap="butt" />
<polyline points="633.50,445.00 633.85,445.49 634.19,445.95 634.54,446.36 634.88,446.68 635.23,446.89 635.58,446.99 635.92,446.97 636.27,446.83 636.61,446.57 636.96,446.22 637.30,445.79 637.65,445.31 638.00,444.82 638.34,444.33 638.69,443.89 639.03,443.51 639.38,443.23 639.73,443.06 640.07,443.00 640.42,443.07 640.76,443.26 641.11,443.55 641.45,443.93 641.80,444.38 642.15,444.87 642.49,445.36 642.84,445.84 643.18,446.26 643.53,446.60 643.88,446.85 644.22,446.98 644.57,446.99 644.91,446.88 645.26,446.65 645.60,446.32 645.95,445.91 646.30,445.44 646.64,444.95 646.99,444.46 647.33,444.00 647.68,443.60 648.02,443.29 648.37,443.09 648.72,443.00 649.06,443.04 649.41,443.19 649.75,443.46 650.10,443.82 650.45,444.26 650.79,444.74 651.14,445.24 651.48,445.72 651.83,446.15 652.17,446.52 652.52,446.79 652.87,446.96 653.21,447.00 653.56,446.92 653.90,446.72 654.25,446.41 654.60,446.02 654.94,445.57 655.29,445.08 655.63,444.58 655.98,444.12 656.33,443.70 656.67,443.37 657.02,443.13 657.36,443.01 657.71,443.02 658.05,443.14 658.40,443.38 658.75,443.72 659.09,444.14 659.44,444.61 659.78,445.10 660.13,445.59 660.48,446.04 660.82,446.43 661.17,446.73 661.51,446.92 661.86,447.00 662.20,446.95 662.55,446.78 662.90,446.50 663.24,446.13 663.59,445.69 663.93,445.21 664.28,444.71 664.62,444.23 664.97,443.80 665.32,443.45 665.66,443.18 666.01,443.03 666.35,443.00 666.70,443.10 667.05,443.31 667.39,443.62 667.74,444.02 668.08,444.48 668.43,444.97 668.77,445.47 669.12,445.93 669.47,446.34 669.81,446.66 670.16,446.89 670.50,446.99 670.85,446.98 671.20,446.84 671.54,446.59 671.89,446.24 672.23,445.81 672.58,445.34 672.92,444.84 673.27,444.36 673.62,443.91 673.96,443.53 674.31,443.24 674.65,443.06 675.00,443.00" fill="none" stroke="#000" stroke-width="2.7" stroke-linejoin="round" stroke-linecap="round"/>
<line x1="697.10" y1="314.70" x2="676.40" y2="329.90" stroke="#000" stroke-width="2.9" stroke-linecap="butt" />
<line x1="725.60" y1="314.70" x2="745.60" y2="329.90" stroke="#000" stroke-width="2.9" stroke-linecap="butt" />
<line x1="710.90" y1="276.20" x2="710.90" y2="290.50" stroke="#000" stroke-width="2.9" stroke-linecap="butt" />
<path d="M745.60,329.90 L787.70,320.80 L816.80,353.80 L803.30,393.90 L761.20,403.00 L732.70,370.60 Z" stroke="#000" stroke-width="2.9" fill="none" stroke-linejoin="miter" stroke-linecap="butt"/>
<line x1="752.70" y1="337.60" x2="784.50" y2="329.90" stroke="#000" stroke-width="2.9" stroke-linecap="butt" />
<line x1="807.10" y1="355.70" x2="796.80" y2="386.80" stroke="#000" stroke-width="2.9" stroke-linecap="butt" />
<line x1="741.70" y1="369.30" x2="763.80" y2="393.30" stroke="#000" stroke-width="2.9" stroke-linecap="butt" />
<line x1="676.40" y1="330.60" x2="689.20" y2="370.80" stroke="#000" stroke-width="2.9" stroke-linecap="butt" />
<line x1="689.20" y1="370.80" x2="732.70" y2="370.80" stroke="#000" stroke-width="2.9" stroke-linecap="butt" />
<path d="M675.71,330.21 L661.01,358.22 L666.99,360.78 L677.09,330.79 Z" fill="#000"/>
<line x1="664.00" y1="359.50" x2="673.70" y2="402.30" stroke="#000" stroke-width="2.9" stroke-linecap="butt" />
<line x1="673.70" y1="402.50" x2="703.80" y2="409.60" stroke="#000" stroke-width="2.9" stroke-linecap="butt" />
<line x1="676.60" y1="412.20" x2="698.30" y2="416.70" stroke="#000" stroke-width="2.9" stroke-linecap="butt" />
<line x1="673.70" y1="403.10" x2="637.50" y2="424.40" stroke="#000" stroke-width="2.9" stroke-linecap="butt" />
<line x1="689.20" y1="371.40" x2="675.90" y2="381.10" stroke="#000" stroke-width="2.9" stroke-linecap="butt" />
<line x1="679.50" y1="368.80" x2="673.70" y2="372.70" stroke="#000" stroke-width="2.9" stroke-linecap="butt" />
<line x1="664.30" y1="388.90" x2="655.00" y2="395.40" stroke="#000" stroke-width="2.9" stroke-linecap="butt" />
<line x1="662.30" y1="380.50" x2="655.50" y2="384.40" stroke="#000" stroke-width="2.9" stroke-linecap="butt" />
<line x1="729.40" y1="426.30" x2="734.60" y2="432.80" stroke="#000" stroke-width="2.9" stroke-linecap="butt" />
<text x="669.83" y="145.90" font-size="26.50" font-weight="bold" fill="#000" textLength="39.24" lengthAdjust="spacingAndGlyphs">OH</text>
<text x="701.20" y="270.40" font-size="26.50" font-weight="bold" fill="#000" textLength="19.41" lengthAdjust="spacingAndGlyphs">H</text>
<text x="701.06" y="314.30" font-size="26.50" font-weight="bold" fill="#000" textLength="19.90" lengthAdjust="spacingAndGlyphs">N</text>
<text x="569.73" y="393.60" font-size="26.50" font-weight="bold" fill="#000" textLength="20.37" lengthAdjust="spacingAndGlyphs">O</text>
<text x="706.86" y="423.70" font-size="26.50" font-weight="bold" fill="#000" textLength="19.90" lengthAdjust="spacingAndGlyphs">N</text>
<text x="737.44" y="453.50" font-size="26.50" font-weight="bold" fill="#000" textLength="19.04" lengthAdjust="spacingAndGlyphs">H</text>
<text x="593.46" y="304.20" font-size="18.80" font-weight="bold" fill="#000" textLength="8.93" lengthAdjust="spacingAndGlyphs">4</text>
<text x="614.45" y="339.60" font-size="18.80" font-weight="bold" fill="#000" textLength="10.85" lengthAdjust="spacingAndGlyphs">3</text>
<text x="654.58" y="324.70" font-size="18.80" font-weight="bold" fill="#000" textLength="20.30" lengthAdjust="spacingAndGlyphs">3a</text>
<text x="633.77" y="369.30" font-size="18.80" font-weight="bold" fill="#000" textLength="20.03" lengthAdjust="spacingAndGlyphs">17</text>
<text x="616.69" y="397.00" font-size="18.80" font-weight="bold" fill="#000" textLength="11.32" lengthAdjust="spacingAndGlyphs">2</text>
<text x="684.16" y="392.00" font-size="18.80" font-weight="bold" fill="#000" textLength="23.46" lengthAdjust="spacingAndGlyphs">8b</text>
<text x="735.62" y="322.70" font-size="18.80" font-weight="bold" fill="#000" textLength="20.26" lengthAdjust="spacingAndGlyphs">4a</text>
<text x="777.40" y="316.30" font-size="18.80" font-weight="bold" fill="#000" textLength="10.84" lengthAdjust="spacingAndGlyphs">5</text>
<text x="688.25" y="240.60" font-size="29.40" fill="#ec2c0e" textLength="56.05" lengthAdjust="spacingAndGlyphs">C3a</text>
<g font-family='"Liberation Serif", "Times New Roman", serif'>
<text x="753.92" y="240.60" font-size="29.40" fill="#ec2c0e" textLength="34.54" lengthAdjust="spacingAndGlyphs">δΔ</text>
</g>
<text x="796.20" y="240.60" font-size="29.40" fill="#ec2c0e" textLength="165.34" lengthAdjust="spacingAndGlyphs">= -48.7 ppm</text>
<text x="679.24" y="485.10" font-size="29.40" fill="#ec2c0e" textLength="56.35" lengthAdjust="spacingAndGlyphs">C8b</text>
<g font-family='"Liberation Serif", "Times New Roman", serif'>
<text x="744.64" y="485.10" font-size="29.40" fill="#ec2c0e" textLength="33.79" lengthAdjust="spacingAndGlyphs">δΔ</text>
</g>
<text x="786.89" y="485.10" font-size="29.40" fill="#ec2c0e" textLength="155.24" lengthAdjust="spacingAndGlyphs">= 82.7 ppm</text>
<circle cx="1728.1" cy="382.4" r="9.2" fill="#f9c3c2" fill-opacity="0.6" stroke="#ec2c0e" stroke-width="2.9"/>
<path d="M1698.20,177.10 L1651.90,181.90 L1633.80,224.20 L1661.90,261.10 L1707.80,257.10 L1726.00,214.20 Z" stroke="#000" stroke-width="3.1" fill="none" stroke-linejoin="miter" stroke-linecap="butt"/>
<line x1="1655.90" y1="191.60" x2="1641.40" y2="224.20" stroke="#000" stroke-width="3.1" stroke-linecap="butt" />
<line x1="1664.90" y1="251.40" x2="1701.80" y2="247.50" stroke="#000" stroke-width="3.1" stroke-linecap="butt" />
<line x1="1695.70" y1="186.10" x2="1716.30" y2="214.20" stroke="#000" stroke-width="3.1" stroke-linecap="butt" />
<line x1="1710.80" y1="150.80" x2="1698.20" y2="177.10" stroke="#000" stroke-width="3.1" stroke-linecap="butt" />
<line x1="1661.90" y1="261.10" x2="1642.40" y2="303.00" stroke="#000" stroke-width="3.1" stroke-linecap="butt" />
<line x1="1642.40" y1="303.00" x2="1669.80" y2="339.00" stroke="#000" stroke-width="3.1" stroke-linecap="butt" />
<line x1="1653.20" y1="302.30" x2="1674.10" y2="330.40" stroke="#000" stroke-width="3.1" stroke-linecap="butt" />
<line x1="1669.80" y1="339.00" x2="1714.40" y2="339.00" stroke="#000" stroke-width="3.1" stroke-linecap="butt" />
<line x1="1669.80" y1="339.00" x2="1655.40" y2="382.20" stroke="#000" stroke-width="3.1" stroke-linecap="butt" />
<line x1="1655.40" y1="377.80" x2="1625.90" y2="387.20" stroke="#000" stroke-width="3.1" stroke-linecap="butt" />
<line x1="1657.60" y1="385.80" x2="1628.80" y2="395.80" stroke="#000" stroke-width="3.1" stroke-linecap="butt" />
<line x1="1655.40" y1="382.20" x2="1690.60" y2="407.30" stroke="#000" stroke-width="3.1" stroke-linecap="butt" />
<line x1="1690.60" y1="406.60" x2="1702.20" y2="400.90" stroke="#000" stroke-width="3.1" stroke-linecap="butt" />
<line x1="1687.80" y1="407.50" x2="1687.80" y2="424.70" stroke="#000" stroke-width="3.1" stroke-linecap="butt" />
<line x1="1687.80" y1="438.80" x2="1687.80" y2="454.40" stroke="#000" stroke-width="3.1" stroke-linecap="butt" />
<line x1="1696.40" y1="408.00" x2="1696.40" y2="419.40" stroke="#000" stroke-width="3.1" stroke-linecap="butt" />
<line x1="1696.40" y1="433.20" x2="1696.40" y2="454.40" stroke="#000" stroke-width="3.1" stroke-linecap="butt" />
<polyline points="1668.50,461.90 1668.88,462.44 1669.25,462.95 1669.62,463.39 1670.00,463.75 1670.38,463.98 1670.75,464.09 1671.12,464.07 1671.50,463.91 1671.88,463.63 1672.25,463.24 1672.62,462.77 1673.00,462.24 1673.38,461.70 1673.75,461.17 1674.12,460.68 1674.50,460.27 1674.88,459.95 1675.25,459.76 1675.62,459.70 1676.00,459.77 1676.38,459.98 1676.75,460.30 1677.12,460.73 1677.50,461.22 1677.88,461.76 1678.25,462.30 1678.62,462.82 1679.00,463.28 1679.38,463.66 1679.75,463.93 1680.12,464.08 1680.50,464.09 1680.88,463.96 1681.25,463.71 1681.62,463.35 1682.00,462.90 1682.38,462.39 1682.75,461.84 1683.12,461.30 1683.50,460.80 1683.88,460.36 1684.25,460.02 1684.62,459.80 1685.00,459.70 1685.38,459.74 1685.75,459.91 1686.12,460.21 1686.50,460.61 1686.88,461.08 1687.25,461.61 1687.62,462.16 1688.00,462.69 1688.38,463.17 1688.75,463.57 1689.12,463.87 1689.50,464.05 1689.88,464.10 1690.25,464.01 1690.62,463.79 1691.00,463.46 1691.38,463.02 1691.75,462.52 1692.12,461.99 1692.50,461.44 1692.88,460.93 1693.25,460.47 1693.62,460.10 1694.00,459.85 1694.38,459.72 1694.75,459.72 1695.12,459.86 1695.50,460.12 1695.88,460.49 1696.25,460.95 1696.62,461.47 1697.00,462.02 1697.38,462.55 1697.75,463.05 1698.12,463.48 1698.50,463.81 1698.88,464.02 1699.25,464.10 1699.62,464.05 1700.00,463.86 1700.38,463.55 1700.75,463.15 1701.12,462.66 1701.50,462.13 1701.88,461.58 1702.25,461.06 1702.62,460.58 1703.00,460.19 1703.38,459.90 1703.75,459.74 1704.12,459.70 1704.50,459.81 1704.88,460.04 1705.25,460.39 1705.62,460.83 1706.00,461.33 1706.38,461.87 1706.75,462.41 1707.12,462.92 1707.50,463.37 1707.88,463.73 1708.25,463.97 1708.62,464.09 1709.00,464.07 1709.38,463.92 1709.75,463.65 1710.12,463.26 1710.50,462.79 1710.88,462.27 1711.25,461.73 1711.62,461.19 1712.00,460.70 1712.38,460.28 1712.75,459.97 1713.12,459.77 1713.50,459.70" fill="none" stroke="#000" stroke-width="2.9" stroke-linejoin="round" stroke-linecap="round"/>
<line x1="1736.70" y1="323.90" x2="1714.40" y2="339.00" stroke="#000" stroke-width="3.1" stroke-linecap="butt" />
<line x1="1765.50" y1="323.90" x2="1787.10" y2="339.00" stroke="#000" stroke-width="3.1" stroke-linecap="butt" />
<line x1="1751.10" y1="282.20" x2="1751.10" y2="298.00" stroke="#000" stroke-width="3.1" stroke-linecap="butt" />
<path d="M1787.10,339.00 L1831.70,329.60 L1861.90,364.20 L1847.50,406.60 L1803.60,416.70 L1773.40,382.90 Z" stroke="#000" stroke-width="3.1" fill="none" stroke-linejoin="miter" stroke-linecap="butt"/>
<line x1="1794.20" y1="346.90" x2="1828.00" y2="339.70" stroke="#000" stroke-width="3.1" stroke-linecap="butt" />
<line x1="1851.80" y1="366.30" x2="1841.70" y2="398.70" stroke="#000" stroke-width="3.1" stroke-linecap="butt" />
<line x1="1783.50" y1="380.70" x2="1806.50" y2="406.60" stroke="#000" stroke-width="3.1" stroke-linecap="butt" />
<line x1="1714.40" y1="339.50" x2="1727.30" y2="382.90" stroke="#000" stroke-width="3.1" stroke-linecap="butt" />
<line x1="1727.30" y1="382.90" x2="1773.40" y2="382.90" stroke="#000" stroke-width="3.1" stroke-linecap="butt" />
<path d="M1713.72,339.19 L1697.61,368.05 L1703.99,370.95 L1715.08,339.81 Z" fill="#000"/>
<line x1="1701.00" y1="369.50" x2="1713.00" y2="416.70" stroke="#000" stroke-width="3.1" stroke-linecap="butt" />
<path d="M1726.69,383.34 L1745.56,413.80 L1750.84,410.00 L1727.91,382.46 Z" fill="#000"/>
<line x1="1727.30" y1="383.50" x2="1714.40" y2="393.70" stroke="#000" stroke-width="3.1" stroke-linecap="butt" />
<line x1="1713.00" y1="416.70" x2="1742.40" y2="424.60" stroke="#000" stroke-width="3.1" stroke-linecap="butt" />
<line x1="1720.90" y1="409.50" x2="1743.90" y2="415.30" stroke="#000" stroke-width="3.1" stroke-linecap="butt" />
<line x1="1713.00" y1="417.20" x2="1673.40" y2="439.00" stroke="#000" stroke-width="3.1" stroke-linecap="butt" />
<line x1="1728.10" y1="392.00" x2="1728.10" y2="486.70" stroke="#ec2c0e" stroke-width="4.3" stroke-linecap="butt" />
<line x1="1714.40" y1="339.00" x2="1731.60" y2="249.50" stroke="#0733f3" stroke-width="3.8" stroke-linecap="butt" />
<text x="1706.64" y="146.30" font-size="28.00" font-weight="bold" fill="#000" textLength="42.36" lengthAdjust="spacingAndGlyphs">OH</text>
<text x="1741.06" y="277.70" font-size="28.00" font-weight="bold" fill="#000" textLength="19.90" lengthAdjust="spacingAndGlyphs">H</text>
<text x="1741.06" y="323.40" font-size="28.00" font-weight="bold" fill="#000" textLength="19.90" lengthAdjust="spacingAndGlyphs">N</text>
<text x="1601.75" y="406.30" font-size="28.00" font-weight="bold" fill="#000" textLength="21.72" lengthAdjust="spacingAndGlyphs">O</text>
<text x="1747.79" y="438.30" font-size="28.00" font-weight="bold" fill="#000" textLength="19.53" lengthAdjust="spacingAndGlyphs">N</text>
<text x="1724.03" y="244.70" font-size="31.00" fill="#0733f3" textLength="60.35" lengthAdjust="spacingAndGlyphs">C3b</text>
<g font-family='"Liberation Serif", "Times New Roman", serif'>
<text x="1792.64" y="244.70" font-size="31.00" fill="#0733f3" textLength="36.77" lengthAdjust="spacingAndGlyphs">δΔ</text>
</g>
<text x="1837.82" y="244.70" font-size="31.00" fill="#0733f3" textLength="145.22" lengthAdjust="spacingAndGlyphs">= 1.4 ppm</text>
<text x="1701.04" y="516.60" font-size="31.00" fill="#ec2c0e" textLength="59.83" lengthAdjust="spacingAndGlyphs">C8b</text>
<g font-family='"Liberation Serif", "Times New Roman", serif'>
<text x="1769.45" y="516.60" font-size="31.00" fill="#ec2c0e" textLength="36.45" lengthAdjust="spacingAndGlyphs">δΔ</text>
</g>
<text x="1813.92" y="516.60" font-size="31.00" fill="#ec2c0e" textLength="174.02" lengthAdjust="spacingAndGlyphs">= -20.6 ppm</text>
<path d="M895.10,867.80 L844.50,872.70 L823.60,919.70 L854.40,960.40 L905.70,953.80 L925.50,907.50 Z" stroke="#000" stroke-width="3.6" fill="none" stroke-linejoin="miter" stroke-linecap="butt"/>
<line x1="849.40" y1="884.30" x2="832.90" y2="919.10" stroke="#000" stroke-width="3.6" stroke-linecap="butt" />
<line x1="858.70" y1="951.50" x2="897.40" y2="945.50" stroke="#000" stroke-width="3.6" stroke-linecap="butt" />
<line x1="890.80" y1="877.70" x2="915.60" y2="909.10" stroke="#000" stroke-width="3.6" stroke-linecap="butt" />
<line x1="907.30" y1="839.00" x2="895.10" y2="867.80" stroke="#000" stroke-width="3.6" stroke-linecap="butt" />
<line x1="854.40" y1="960.40" x2="832.90" y2="1005.90" stroke="#000" stroke-width="3.6" stroke-linecap="butt" />
<line x1="832.90" y1="1005.90" x2="862.30" y2="1045.90" stroke="#000" stroke-width="3.6" stroke-linecap="butt" />
<line x1="845.00" y1="1005.10" x2="866.90" y2="1036.10" stroke="#000" stroke-width="3.6" stroke-linecap="butt" />
<line x1="862.30" y1="1045.90" x2="912.20" y2="1045.90" stroke="#000" stroke-width="3.6" stroke-linecap="butt" />
<line x1="862.30" y1="1045.90" x2="848.00" y2="1092.70" stroke="#000" stroke-width="3.6" stroke-linecap="butt" />
<line x1="848.00" y1="1088.20" x2="814.70" y2="1098.80" stroke="#000" stroke-width="3.6" stroke-linecap="butt" />
<line x1="849.50" y1="1098.00" x2="817.80" y2="1108.60" stroke="#000" stroke-width="3.6" stroke-linecap="butt" />
<line x1="848.00" y1="1092.70" x2="885.70" y2="1121.40" stroke="#000" stroke-width="3.6" stroke-linecap="butt" />
<line x1="885.70" y1="1121.40" x2="900.80" y2="1112.40" stroke="#000" stroke-width="3.6" stroke-linecap="butt" />
<line x1="882.70" y1="1121.40" x2="882.70" y2="1137.30" stroke="#000" stroke-width="3.6" stroke-linecap="butt" />
<line x1="882.70" y1="1153.10" x2="882.70" y2="1171.30" stroke="#000" stroke-width="3.6" stroke-linecap="butt" />
<line x1="891.80" y1="1124.00" x2="891.80" y2="1135.00" stroke="#000" stroke-width="3.6" stroke-linecap="butt" />
<line x1="891.80" y1="1154.00" x2="891.80" y2="1171.30" stroke="#000" stroke-width="3.6" stroke-linecap="butt" />
<polyline points="864.00,1187.20 864.42,1187.79 864.83,1188.35 865.25,1188.83 865.67,1189.21 866.08,1189.47 866.50,1189.59 866.92,1189.57 867.33,1189.39 867.75,1189.08 868.17,1188.66 868.58,1188.15 869.00,1187.58 869.42,1186.98 869.83,1186.40 870.25,1185.87 870.67,1185.42 871.08,1185.08 871.50,1184.87 871.92,1184.80 872.33,1184.88 872.75,1185.11 873.17,1185.46 873.58,1185.92 874.00,1186.46 874.42,1187.04 874.83,1187.64 875.25,1188.20 875.67,1188.71 876.08,1189.12 876.50,1189.42 876.92,1189.58 877.33,1189.59 877.75,1189.45 878.17,1189.18 878.58,1188.78 879.00,1188.29 879.42,1187.73 879.83,1187.14 880.25,1186.55 880.67,1186.00 881.08,1185.53 881.50,1185.15 881.92,1184.91 882.33,1184.80 882.75,1184.85 883.17,1185.03 883.58,1185.35 884.00,1185.79 884.42,1186.31 884.83,1186.89 885.25,1187.48 885.67,1188.06 886.08,1188.59 886.50,1189.02 886.92,1189.35 887.33,1189.55 887.75,1189.60 888.17,1189.50 888.58,1189.26 889.00,1188.90 889.42,1188.43 889.83,1187.88 890.25,1187.29 890.67,1186.70 891.08,1186.14 891.50,1185.64 891.92,1185.24 892.33,1184.96 892.75,1184.82 893.17,1184.82 893.58,1184.97 894.00,1185.26 894.42,1185.67 894.83,1186.17 895.25,1186.73 895.67,1187.33 896.08,1187.91 896.50,1188.45 896.92,1188.92 897.33,1189.28 897.75,1189.51 898.17,1189.60 898.58,1189.54 899.00,1189.34 899.42,1189.00 899.83,1188.56 900.25,1188.03 900.67,1187.45 901.08,1186.86 901.50,1186.28 901.92,1185.76 902.33,1185.33 902.75,1185.02 903.17,1184.84 903.58,1184.81 904.00,1184.92 904.42,1185.17 904.83,1185.55 905.25,1186.03 905.67,1186.58 906.08,1187.17 906.50,1187.76 906.92,1188.32 907.33,1188.81 907.75,1189.20 908.17,1189.46 908.58,1189.59 909.00,1189.57 909.42,1189.41 909.83,1189.10 910.25,1188.69 910.67,1188.18 911.08,1187.61 911.50,1187.01 911.92,1186.43 912.33,1185.89 912.75,1185.44 913.17,1185.09 913.58,1184.87 914.00,1184.80" fill="none" stroke="#000" stroke-width="3.1" stroke-linejoin="round" stroke-linecap="round"/>
<line x1="936.30" y1="1028.50" x2="912.20" y2="1045.90" stroke="#000" stroke-width="3.6" stroke-linecap="butt" />
<line x1="967.30" y1="1028.50" x2="991.50" y2="1045.10" stroke="#000" stroke-width="3.6" stroke-linecap="butt" />
<line x1="951.90" y1="983.20" x2="951.90" y2="1000.80" stroke="#000" stroke-width="3.6" stroke-linecap="butt" />
<path d="M991.50,1045.10 L1039.80,1034.60 L1073.80,1072.30 L1058.70,1119.90 L1009.60,1131.20 L976.40,1093.50 Z" stroke="#000" stroke-width="3.6" fill="none" stroke-linejoin="miter" stroke-linecap="butt"/>
<line x1="999.00" y1="1055.00" x2="1036.80" y2="1046.60" stroke="#000" stroke-width="3.6" stroke-linecap="butt" />
<line x1="1062.50" y1="1075.30" x2="1050.40" y2="1110.80" stroke="#000" stroke-width="3.6" stroke-linecap="butt" />
<line x1="987.00" y1="1090.50" x2="1012.60" y2="1119.20" stroke="#000" stroke-width="3.6" stroke-linecap="butt" />
<line x1="912.20" y1="1046.50" x2="927.30" y2="1093.50" stroke="#000" stroke-width="3.6" stroke-linecap="butt" />
<line x1="927.30" y1="1093.50" x2="976.40" y2="1093.50" stroke="#000" stroke-width="3.6" stroke-linecap="butt" />
<path d="M911.56,1047.11 L900.03,1061.96 L905.17,1065.04 L912.84,1047.89 Z" fill="#000"/>
<path d="M927.30,1094.50 L951.00,1140.50 L965.80,1147.60 Z" fill="#000" stroke="#000" stroke-width="0.8" stroke-linejoin="round"/>
<path d="M908.4,1128.8 L965.8,1147.6 L964.0,1150.5 L907.5,1133.0 Z" fill="#000"/>
<line x1="900.80" y1="1098.00" x2="906.90" y2="1126.70" stroke="#000" stroke-width="3.6" stroke-linecap="butt" />
<line x1="909.90" y1="1096.50" x2="917.50" y2="1122.90" stroke="#000" stroke-width="3.6" stroke-linecap="butt" />
<line x1="907.80" y1="1131.00" x2="866.90" y2="1155.40" stroke="#000" stroke-width="3.6" stroke-linecap="butt" />
<line x1="927.30" y1="1094.50" x2="918.00" y2="1100.00" stroke="#000" stroke-width="3.6" stroke-linecap="butt" />
<line x1="932.90" y1="945.00" x2="912.20" y2="1045.90" stroke="#0733f3" stroke-width="4.3" stroke-linecap="butt" />
<line x1="927.40" y1="1095.70" x2="927.40" y2="1200.40" stroke="#0733f3" stroke-width="4.3" stroke-linecap="butt" />
<text x="902.73" y="833.70" font-size="31.50" font-weight="bold" fill="#000" textLength="46.35" lengthAdjust="spacingAndGlyphs">OH</text>
<text x="940.47" y="977.80" font-size="31.50" font-weight="bold" fill="#000" textLength="22.97" lengthAdjust="spacingAndGlyphs">H</text>
<text x="941.03" y="1027.80" font-size="31.50" font-weight="bold" fill="#000" textLength="22.36" lengthAdjust="spacingAndGlyphs">N</text>
<text x="886.91" y="1092.00" font-size="31.50" font-weight="bold" fill="#000" textLength="20.39" lengthAdjust="spacingAndGlyphs">N</text>
<text x="788.55" y="1119.30" font-size="31.50" font-weight="bold" fill="#000" textLength="23.73" lengthAdjust="spacingAndGlyphs">O</text>
<text x="1007.86" y="1179.60" font-size="32.30" font-weight="bold" fill="#000" textLength="21.76" lengthAdjust="spacingAndGlyphs">C</text>
<text x="1029.60" y="1185.70" font-size="22.00" font-weight="bold" fill="#000" textLength="26.44" lengthAdjust="spacingAndGlyphs">17</text>
<text x="925.90" y="939.30" font-size="34.00" fill="#0733f3" textLength="65.09" lengthAdjust="spacingAndGlyphs">C3b</text>
<g font-family='"Liberation Serif", "Times New Roman", serif'>
<text x="1001.25" y="939.30" font-size="34.00" fill="#0733f3" textLength="39.43" lengthAdjust="spacingAndGlyphs">δΔ</text>
</g>
<text x="1050.27" y="939.30" font-size="34.00" fill="#0733f3" textLength="170.78" lengthAdjust="spacingAndGlyphs">= -7.4 ppm</text>
<text x="897.19" y="1232.80" font-size="34.00" fill="#0733f3" textLength="65.30" lengthAdjust="spacingAndGlyphs">C8b</text>
<g font-family='"Liberation Serif", "Times New Roman", serif'>
<text x="972.75" y="1232.80" font-size="34.00" fill="#0733f3" textLength="39.43" lengthAdjust="spacingAndGlyphs">δΔ</text>
</g>
<text x="1021.06" y="1232.80" font-size="34.00" fill="#0733f3" textLength="171.60" lengthAdjust="spacingAndGlyphs">= -5.7 ppm</text>
</svg>
</body></html>
